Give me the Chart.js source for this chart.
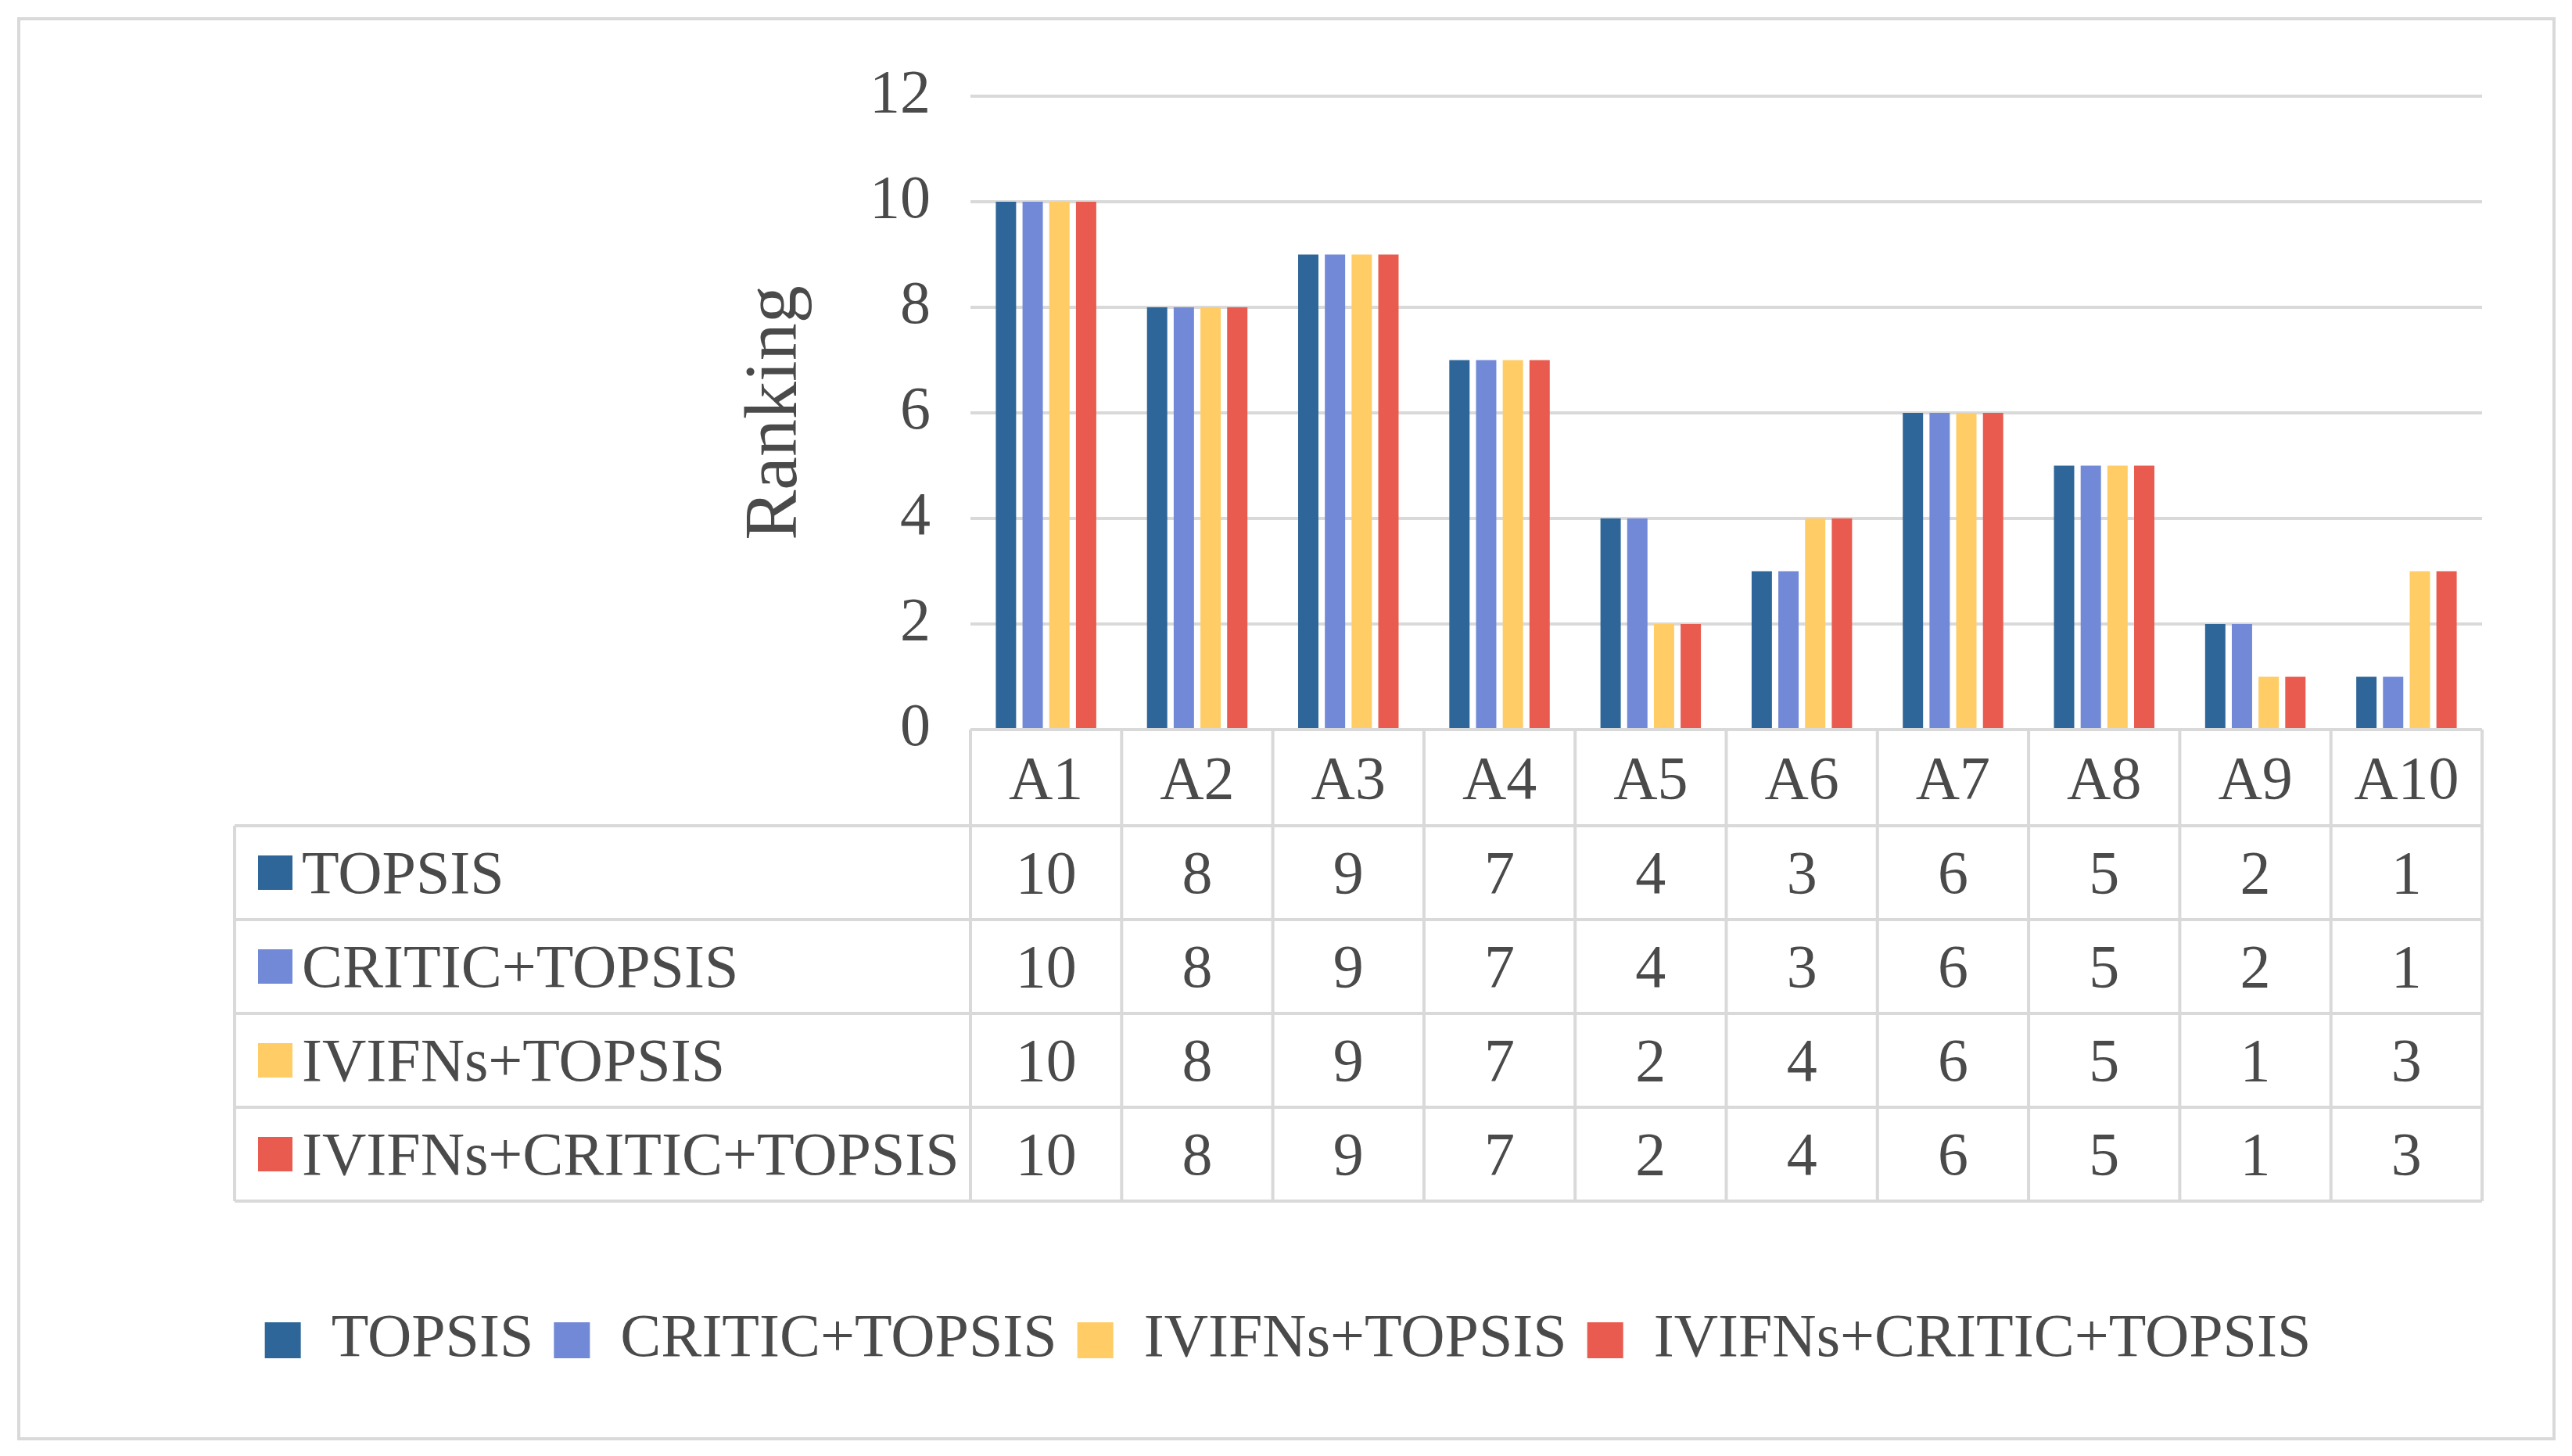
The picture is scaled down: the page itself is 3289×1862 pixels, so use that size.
<!DOCTYPE html>
<html>
<head>
<meta charset="utf-8">
<script src="https://cdn.jsdelivr.net/npm/chart.js@4.4.0/dist/chart.umd.min.js"></script>
<style>
  html, body { margin: 0; padding: 0; background: #fff; }
  #ranking-chart { display: block; }
</style>
</head>
<body>
<canvas id="ranking-chart" width="3289" height="1862"></canvas>
<script>
// data
const categories = ['A1', 'A2', 'A3', 'A4', 'A5', 'A6', 'A7', 'A8', 'A9', 'A10'];
const seriesNames = ['TOPSIS', 'CRITIC+TOPSIS', 'IVIFNs+TOPSIS', 'IVIFNs+CRITIC+TOPSIS'];
const topsis = [10, 8, 9, 7, 4, 3, 6, 5, 2, 1];
const criticTopsis = [10, 8, 9, 7, 4, 3, 6, 5, 2, 1];
const ivifnsTopsis = [10, 8, 9, 7, 2, 4, 6, 5, 1, 3];
const ivifnsCriticTopsis = [10, 8, 9, 7, 2, 4, 6, 5, 1, 3];
const yTicks = [0, 2, 4, 6, 8, 10, 12];
const axisTitle = 'Ranking';

const seriesColors = ['#2F6699', '#7189D6', '#FFCC66', '#E95B4E'];
const textColor = '#4a4a4a';
const lineColor = '#d9d9d9';
const FONT = '"Liberation Serif", "Times New Roman", serif';

Chart.defaults.font.family = FONT;
Chart.defaults.color = textColor;

// outer frame + data table under the plot
const tablePlugin = {
  id: 'dataTable',
  beforeDraw(chart) {
    const ctx = chart.ctx;
    ctx.save();
    ctx.fillStyle = '#fff';
    ctx.fillRect(0, 0, chart.width, chart.height);
    ctx.strokeStyle = lineColor;
    ctx.lineWidth = 4;
    ctx.strokeRect(24, 24, 3242, 1816);
    ctx.restore();
  },
  afterDraw(chart) {
    const ctx = chart.ctx;
    const xs = chart.scales.x;
    const area = chart.chartArea;
    const colW = (area.right - area.left) / categories.length;
    const headTop = area.bottom;
    const headBottom = 1056;
    const rowH = 120;
    const tableLeft = 300;
    const tableBottom = headBottom + rowH * chart.data.datasets.length;

    ctx.save();
    ctx.strokeStyle = lineColor;
    ctx.lineWidth = 4;
    ctx.beginPath();
    // horizontal rules
    for (let r = 0; r <= chart.data.datasets.length; r++) {
      const y = headBottom + r * rowH;
      ctx.moveTo(tableLeft, y);
      ctx.lineTo(area.right, y);
    }
    // vertical rules
    ctx.moveTo(tableLeft, headBottom);
    ctx.lineTo(tableLeft, tableBottom);
    for (let i = 0; i <= categories.length; i++) {
      const x = area.left + i * colW;
      ctx.moveTo(x, headTop);
      ctx.lineTo(x, tableBottom);
    }
    ctx.stroke();

    ctx.fillStyle = textColor;
    ctx.font = '78px ' + FONT;
    ctx.textAlign = 'center';
    ctx.textBaseline = 'alphabetic';
    categories.forEach((c, i) => {
      ctx.fillText(c, xs.getPixelForValue(i), (headTop + headBottom) / 2 + 26);
    });

    chart.data.datasets.forEach((ds, r) => {
      const cy = headBottom + r * rowH + rowH / 2;
      ctx.fillStyle = ds.backgroundColor;
      ctx.fillRect(330, cy - 22, 44, 44);
      ctx.fillStyle = textColor;
      ctx.textAlign = 'left';
      ctx.fillText(ds.label, 386, cy + 26);
      ctx.textAlign = 'center';
      ds.data.forEach((v, i) => {
        ctx.fillText(String(v), xs.getPixelForValue(i), cy + 26);
      });
    });
    ctx.restore();
  }
};

const seriesValues = [topsis, criticTopsis, ivifnsTopsis, ivifnsCriticTopsis];

new Chart(document.getElementById('ranking-chart'), {
  type: 'bar',
  data: {
    labels: categories,
    datasets: seriesNames.map((name, i) => ({
      label: name,
      data: seriesValues[i],
      backgroundColor: seriesColors[i],
      borderWidth: 0,
      categoryPercentage: 0.707,
      barPercentage: 0.76,
    })),
  },
  options: {
    responsive: false,
    animation: false,
    devicePixelRatio: 1,
    layout: {
      padding: { left: 120, right: 115, top: 123, bottom: 99 },
    },
    plugins: {
      tooltip: { enabled: false },
      legend: {
        position: 'bottom',
        labels: {
          font: { size: 78, family: FONT },
          color: textColor,
          boxWidth: 46,
          boxHeight: 46,
          padding: 26,
        },
      },
    },
    scales: {
      x: {
        grid: { display: false },
        border: { display: false },
        ticks: { display: false },
        afterFit(scale) { scale.height = 716; },
      },
      y: {
        min: 0,
        max: 12,
        afterBuildTicks(scale) { scale.ticks = yTicks.map(v => ({ value: v })); },
        ticks: {
          font: { size: 78, family: FONT },
          color: textColor,
          padding: 51,
        },
        grid: { color: lineColor, lineWidth: 4, drawTicks: false },
        border: { display: false },
        title: {
          display: true,
          text: axisTitle,
          font: { size: 96, family: FONT },
          color: textColor,
          padding: { top: 815, bottom: 0 },
        },
        afterFit(scale) { scale.width = 1121; },
      },
    },
  },
  plugins: [tablePlugin],
});
</script>
</body>
</html>
